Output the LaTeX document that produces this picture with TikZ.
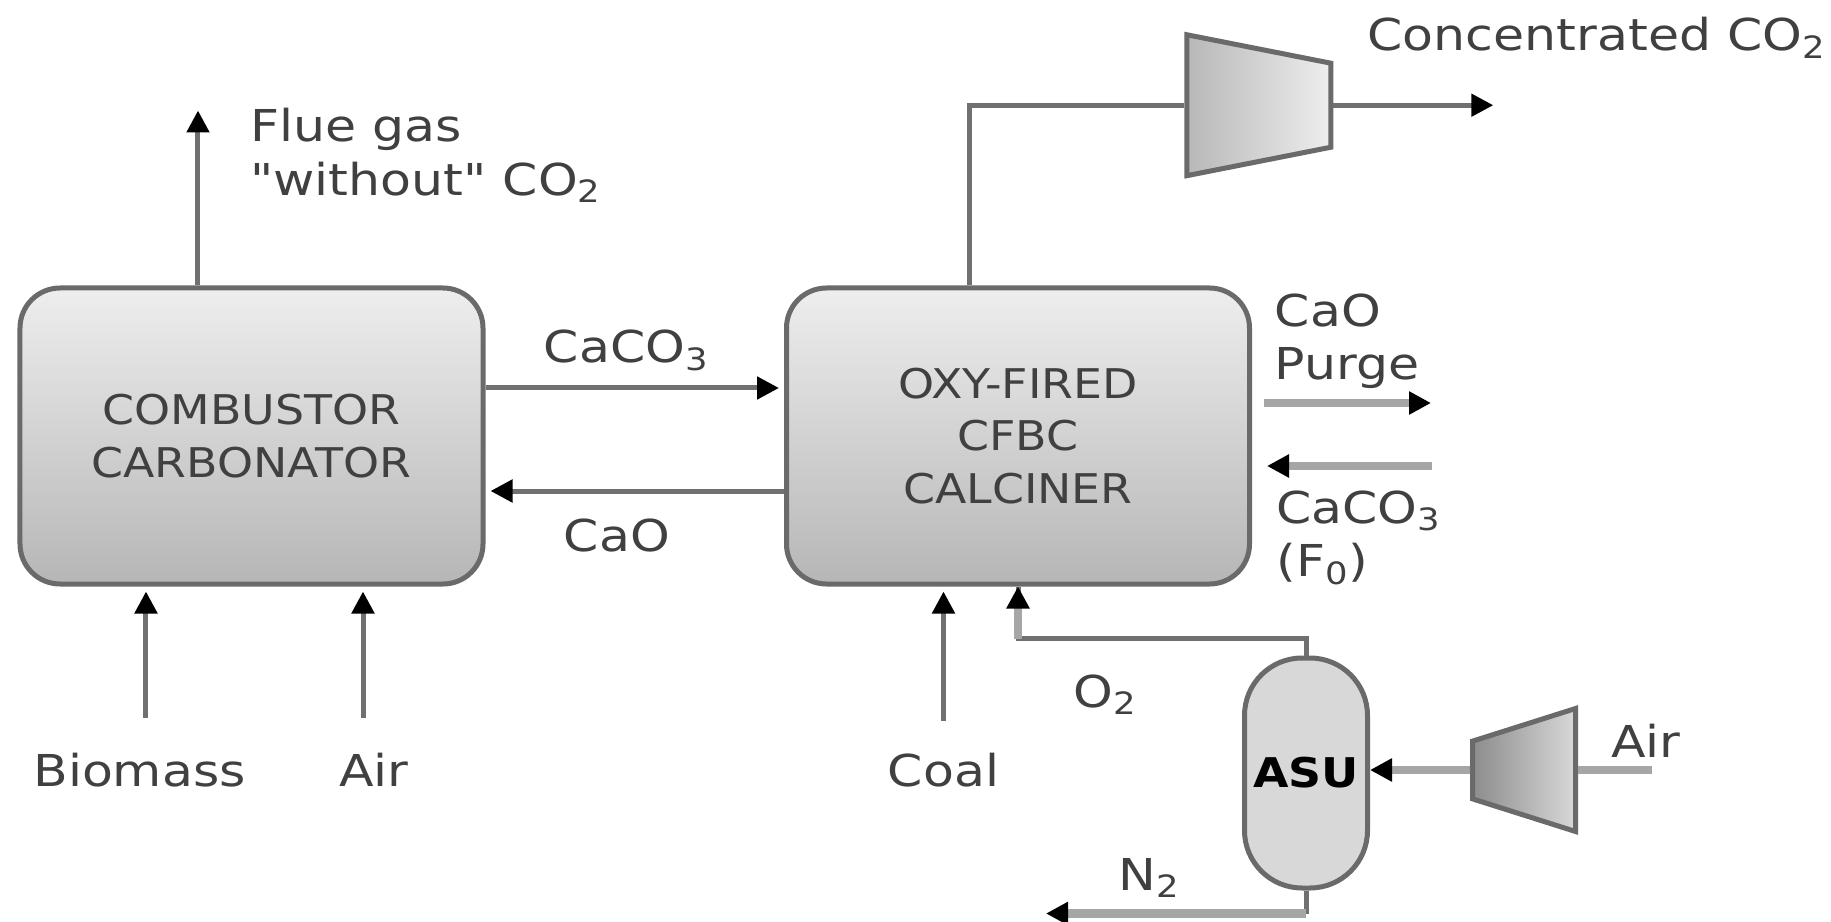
\documentclass[tikz,border=0pt]{standalone}
\usepackage{fontspec}
\setmainfont[FakeStretch=1.12, Ligatures=TeXOff]{DejaVu Sans}
\newfontfamily\lblfont[FakeStretch=1.15, Ligatures=TeXOff]{DejaVu Sans}
\usetikzlibrary{shapes.geometric, arrows.meta, positioning}
\definecolor{cfGray}{HTML}{707070}
\definecolor{cfLine}{HTML}{6A6A6A}
\definecolor{cfHeavy}{HTML}{A6A6A6}
\definecolor{cfText}{HTML}{404040}
\definecolor{cfTop}{HTML}{EEEEEE}
\definecolor{cfBot}{HTML}{B6B6B6}
\definecolor{cfFill}{HTML}{D8D8D8}

\begin{document}
\begin{tikzpicture}[
  block/.style={rectangle, draw=cfLine, line width=1mm, rounded corners=0.8cm, top color=cfTop, bottom color=cfBot, minimum width=9.26cm, minimum height=5.92cm, align=center, text=cfText, font=\fontsize{23.3}{30}\selectfont},
  lbl/.style={inner sep=0pt, text depth=0pt, align=left, text=cfText, font=\lblfont\fontsize{25}{30.5}\selectfont},
  vessel/.style={rectangle, draw=cfLine, line width=1mm, rounded corners=1.15cm, fill=cfFill, minimum width=2.46cm, minimum height=4.6cm, inner sep=0pt, font=\fontsize{23.3}{30}\selectfont\bfseries},
  comp/.style={trapezium, draw=cfLine, line width=1mm, trapezium stretches=true, inner sep=0pt},
  e/.style={-{Stealth[length=4.4mm, width=4.4mm, inset=0pt, black]}, cfGray, line width=1mm, shorten >=1mm},
  he/.style={-{Stealth[length=4.4mm, width=4.4mm, inset=0pt, black]}, cfHeavy, line width=1.7mm},
  pipe/.style={cfGray, line width=1mm}]
  \useasboundingbox (-5.03,8.72) rectangle (31.59,-9.72);
  \node[block](carb){COMBUSTOR\\CARBONATOR};
  \node[block, right=5.97cm of carb](calc){OXY-FIRED\\CFBC\\CALCINER};
  \node[vessel, below right=1.38cm and -0.2cm of calc.south east](asu){ASU};
  \node[comp, shape border rotate=270, trapezium angle=74.4, left color=cfFill!85!black, right color=cfTop, minimum height=2.88cm, minimum width=2.82cm, above right=2.14cm and -1.33cm of calc.north east](ctop){\phantom{x}};
  \node[comp, shape border rotate=90, trapezium angle=65, left color=cfFill!65!black, right color=cfFill, minimum height=2.06cm, minimum width=2.46cm, right=2cm of asu, yshift=0.06cm](cair){\phantom{x}};
  % free ends
  \coordinate[right=3.3cm of ctop.east](co2end);
  \coordinate[right=1.47cm of cair.east](airend);
  \coordinate[below=0.46cm of asu.south](nturn);
  \coordinate[left=5.2cm of nturn](ntip);
  \coordinate[above=0.34cm of asu.north](oturn);
  % labels
  \node[lbl, above right=1.8cm and -0.03cm of carb.north](flue){Flue gas\\"without" CO\textsubscript{2}};
  \node[lbl, above right=1.46cm and 1.16cm of carb.east](caco){CaCO\textsubscript{3}};
  \node[lbl, above right=-2.32cm and 1.56cm of carb.east](cao){CaO};
  \node[lbl, above right=-4cm and -4.37cm of carb.south](bio){Biomass};
  \node[lbl, above right=-4cm and 1.75cm of carb.south](air){Air};
  \node[lbl, above right=-4cm and -2.61cm of calc.south](coal){Coal};
  \node[lbl, above right=-2.42cm and 1.11cm of calc.south](otwo){O\textsubscript{2}};
  \node[lbl, above right=1.12cm and 0.45cm of calc.east](purge){CaO\\Purge};
  \node[lbl, above right=-2.82cm and 0.48cm of calc.east](feed){CaCO\textsubscript{3}\\(F\textsubscript{0})};
  \node[lbl, above right=1.08cm and 0.68cm of ctop.east](conc){Concentrated CO\textsubscript{2}};
  \node[lbl, above left=0cm and 2.52cm of asu.south](ntwo){N\textsubscript{2}};
  \node[lbl, above right=0.24cm and 0.66cm of cair.east](airr){Air};
  % connectors
  \draw[e]([xshift=-1.07cm]carb.north)--([xshift=-1.07cm,yshift=3.6cm]carb.north);
  \draw[e]([yshift=0.96cm]carb.east)--([yshift=0.96cm]calc.west);
  \draw[e]([yshift=-1.1cm]calc.west)--([yshift=-1.1cm]carb.east);
  \draw[e]([xshift=-2.11cm,yshift=-2.62cm]carb.south)--([xshift=-2.11cm]carb.south);
  \draw[e]([xshift=2.23cm,yshift=-2.62cm]carb.south)--([xshift=2.23cm]carb.south);
  \draw[e]([xshift=-1.49cm,yshift=-2.68cm]calc.south)--([xshift=-1.49cm]calc.south);
  \draw[pipe](asu.north)--(oturn)-|(calc.south);
  \draw[he](oturn-|calc.south)--(calc.south);
  \draw[pipe]([xshift=-0.97cm]calc.north)|-(ctop.west);
  \draw[e](ctop.east)--(co2end);
  \draw[he]([xshift=0.24cm,yshift=0.66cm]calc.east)--([xshift=3.58cm,yshift=0.66cm]calc.east);
  \draw[he]([xshift=3.6cm,yshift=-0.6cm]calc.east)--([xshift=0.3cm,yshift=-0.6cm]calc.east);
  \draw[he](cair.west)--(cair.west-|asu.east);
  \draw[cfHeavy, line width=1.7mm](cair.east)--(airend);
  \draw[pipe](asu.south)--(nturn);
  \draw[he](nturn)--(ntip);
\end{tikzpicture}
\end{document}
